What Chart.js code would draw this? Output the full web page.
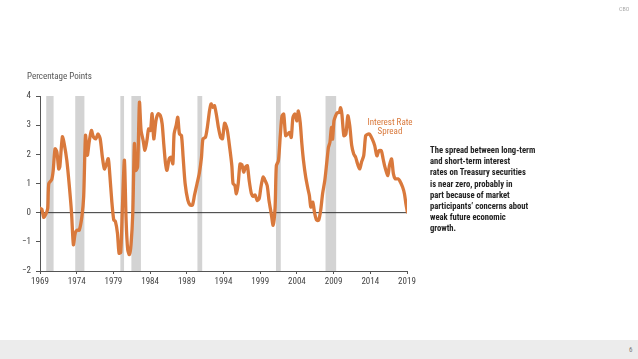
<!DOCTYPE html>
<html>
<head>
<meta charset="utf-8">
<script src="https://cdn.jsdelivr.net/npm/chart.js@4/dist/chart.umd.min.js"></script>
<style>
  body { margin: 0; background: #fff; }
  #wrap { position: relative; width: 638px; height: 359px; overflow: hidden;
    font-family: 'Liberation Sans Narrow', 'Roboto Condensed', 'Liberation Sans', sans-serif; }
  #c { position: absolute; left: 0; top: 0; }
  .footer { position: absolute; left: 0; top: 340px; width: 638px; height: 19px; background: #ececec; }
  .page { position: absolute; left: 629px; top: 346px; font-size: 7px; line-height: 8px; color: #777; }
  .cbo { position: absolute; left: 619px; top: 5px; font-size: 6px; line-height: 7px; color: #aaa; }
  .ytitle { position: absolute; left: 27px; top: 71px; font-size: 9px; color: #555; }
  .series { position: absolute; left: 350px; top: 118px; width: 80px; text-align: center;
    font-size: 9px; line-height: 9px; color: #d9793c; }
  .note { position: absolute; left: 430px; top: 145px; font-size: 8.6px; line-height: 11.2px;
    color: #222; font-weight: bold; }
</style>
</head>
<body>
<div id="wrap">
  <canvas id="c" width="638" height="359"></canvas>
  <div class="cbo">CBO</div>
  <div class="ytitle">Percentage Points</div>
  <div class="series">Interest Rate<br>Spread</div>
  <div class="note">The spread between long-term<br>and short-term interest<br>rates on Treasury securities<br>is near zero, probably in<br>part because of market<br>participants’ concerns about<br>weak future economic<br>growth.</div>
  <div class="footer"></div>
  <div class="page">6</div>
</div>
<script>
// spread between 10-year and 3-month Treasury yields
const spreadYears = [
  1969.0, 1969.25, 1969.5, 1969.8, 1970.05, 1970.2, 1970.6, 1970.8, 1971.05, 1971.3,
  1971.55, 1971.7, 1972.05, 1972.3, 1972.65, 1973.0, 1973.3, 1973.55, 1973.8, 1974.05,
  1974.35, 1974.7, 1974.95, 1975.2, 1975.45, 1975.7, 1976.0, 1976.27, 1976.6, 1976.9,
  1977.2, 1977.5, 1977.77, 1978.0, 1978.3, 1978.5, 1978.77, 1979.05, 1979.27, 1979.55,
  1979.77, 1980.0, 1980.23, 1980.5, 1980.73, 1980.95, 1981.18, 1981.4, 1981.64, 1981.86,
  1982.05, 1982.3, 1982.55, 1982.77, 1983.05, 1983.3, 1983.6, 1983.8, 1984.05, 1984.27,
  1984.5, 1984.8, 1985.1, 1985.4, 1985.64, 1985.86, 1986.1, 1986.3, 1986.6, 1986.86,
  1987.1, 1987.27, 1987.55, 1987.77, 1988.0, 1988.27, 1988.5, 1988.77, 1989.14, 1989.45,
  1989.77, 1990.05, 1990.4, 1990.7, 1991.0, 1991.2, 1991.55, 1991.8, 1992.1, 1992.3,
  1992.55, 1992.77, 1993.05, 1993.3, 1993.6, 1993.86, 1994.15, 1994.5, 1994.86, 1995.14,
  1995.3, 1995.55, 1995.75, 1996.0, 1996.25, 1996.5, 1996.75, 1997.0, 1997.25, 1997.5,
  1997.8, 1998.05, 1998.3, 1998.6, 1998.86, 1999.1, 1999.4, 1999.67, 1999.95, 2000.2,
  2000.5, 2000.76, 2001.03, 2001.2, 2001.48, 2001.75, 2001.97, 2002.2, 2002.47, 2002.74,
  2003.0, 2003.23, 2003.46, 2003.73, 2004.0, 2004.2, 2004.45, 2004.68, 2004.9, 2005.2,
  2005.5, 2005.7, 2005.9, 2006.16, 2006.43, 2006.7, 2006.97, 2007.24, 2007.5, 2007.8,
  2008.05, 2008.3, 2008.5, 2008.7, 2008.86, 2009.05, 2009.27, 2009.5, 2009.77, 2009.95,
  2010.13, 2010.4, 2010.67, 2010.94, 2011.2, 2011.47, 2011.74, 2012.0, 2012.27, 2012.56,
  2012.8, 2013.1, 2013.37, 2013.64, 2013.9, 2014.27, 2014.6, 2014.9, 2015.17, 2015.5,
  2015.75, 2016.0, 2016.4, 2016.6, 2016.9, 2017.15, 2017.4, 2017.77, 2018.0, 2018.4,
  2018.65, 2018.85, 2019.05
]
const spreadValues = [
  0.15, 0.12, -0.16, -0.05, 0.15, 1.0, 1.14, 1.45, 2.19, 2.08,
  1.5, 1.57, 2.6, 2.36, 1.8, 0.9, -0.02, -1.1, -0.7, -0.6,
  -0.6, -0.15, 0.55, 2.65, 1.97, 2.42, 2.82, 2.6, 2.53, 2.7,
  2.53, 1.9, 1.5, 1.62, 1.85, 1.34, 0.43, -0.25, -0.3, -0.7,
  -1.39, -1.36, 0.2, 1.8, -0.25, -1.27, -1.44, -1.1, -0.02, 2.36,
  1.45, 1.57, 3.78, 2.82, 2.48, 2.14, 2.53, 2.87, 2.82, 3.39,
  2.53, 3.16, 3.39, 3.33, 3.05, 2.36, 1.68, 1.45, 1.85, 1.9,
  1.68, 2.7, 2.99, 3.27, 2.7, 2.65, 1.9, 1.0, 0.43, 0.26,
  0.26, 0.6, 1.0, 1.34, 1.9, 2.53, 2.59, 2.93, 3.5, 3.73,
  3.61, 3.67, 3.33, 2.93, 2.59, 2.53, 3.07, 2.85, 2.2, 1.6,
  1.0, 0.93, 0.65, 0.99, 1.67, 1.65, 1.39, 1.56, 1.61, 1.1,
  0.65, 0.56, 0.61, 0.42, 0.48, 0.88, 1.22, 1.1, 0.93, 0.42,
  -0.03, -0.43, 0.19, 1.61, 1.78, 2.69, 3.32, 3.38, 2.64, 2.69,
  2.75, 2.58, 3.26, 3.38, 3.15, 3.49, 3.09, 2.35, 1.78, 1.22,
  0.82, 0.59, 0.19, 0.36, -0.03, -0.26, -0.26, 0.08, 0.65, 1.1,
  1.67, 2.24, 2.41, 2.92, 2.52, 3.15, 3.32, 3.43, 3.43, 3.6,
  3.38, 2.64, 2.69, 3.32, 2.98, 2.3, 2.01, 1.9, 1.67, 1.5,
  1.73, 1.95, 2.64, 2.69, 2.69, 2.52, 2.3, 1.95, 2.12, 2.12,
  1.84, 1.56, 1.27, 1.61, 1.84, 1.33, 1.16, 1.16, 1.1, 0.88,
  0.65, 0.31, 0.02
]

// recessions (shaded)
const recessionStarts = [1969.85, 1973.8, 1979.95, 1981.45, 1990.45, 2001.15, 2007.9]
const recessionEnds = [1970.85, 1975.05, 1980.45, 1982.75, 1991.1, 2001.8, 2009.35]

const yTicks = [-2, -1, 0, 1, 2, 3, 4]
const xTicks = [1969, 1974, 1979, 1984, 1989, 1994, 1999, 2004, 2009, 2014, 2019]

const orange = '#d9793c'
const font = { family: "'Liberation Sans Narrow', 'Roboto Condensed', 'Liberation Sans', sans-serif", size: 9 }

const recessions = {
  id: 'recessions',
  beforeDatasetsDraw (chart) {
    const { ctx, chartArea, scales } = chart
    ctx.save()
    ctx.fillStyle = '#d3d3d3'
    recessionStarts.forEach((s, i) => {
      const x0 = scales.x.getPixelForValue(s)
      const x1 = scales.x.getPixelForValue(recessionEnds[i])
      ctx.fillRect(x0, chartArea.top, x1 - x0, chartArea.bottom - chartArea.top)
    })
    // zero line on top of the shading
    const y0 = scales.y.getPixelForValue(0)
    ctx.strokeStyle = '#333'
    ctx.lineWidth = 1
    ctx.beginPath()
    ctx.moveTo(chartArea.left, y0)
    ctx.lineTo(chartArea.right, y0)
    ctx.stroke()
    ctx.restore()
  }
}

new Chart(document.getElementById('c'), {
  type: 'line',
  data: {
    datasets: [{
      data: spreadYears.map((x, i) => ({ x, y: spreadValues[i] })),
      borderColor: orange,
      borderWidth: 3.3,
      pointRadius: 0,
      tension: 0.25,
      borderJoinStyle: 'round',
      borderCapStyle: 'round'
    }]
  },
  options: {
    responsive: false,
    animation: false,
    layout: { padding: { left: 0, right: 231, top: 96, bottom: 68 } },
    plugins: { legend: { display: false }, tooltip: { enabled: false } },
    scales: {
      x: {
        type: 'linear',
        min: 1969,
        max: 2019,
        afterFit (s) { s.height = 20 },
        afterBuildTicks (s) { s.ticks = xTicks.map(v => ({ value: v })) },
        grid: { display: true, drawOnChartArea: false, tickLength: 3, color: '#555' },
        border: { color: '#555', width: 1 },
        ticks: { color: '#444', font, padding: 2, maxRotation: 0, callback: v => String(v) }
      },
      y: {
        min: -2,
        max: 4,
        afterFit (s) { s.width = 40 },
        afterBuildTicks (s) { s.ticks = yTicks.map(v => ({ value: v })) },
        grid: { display: true, drawOnChartArea: false, tickLength: 4, color: '#555' },
        border: { color: '#555', width: 1 },
        ticks: { color: '#444', font, padding: 5, callback: v => v < 0 ? '\u2212' + Math.abs(v) : String(v) }
      }
    }
  },
  plugins: [recessions]
})
</script>
</body>
</html>
